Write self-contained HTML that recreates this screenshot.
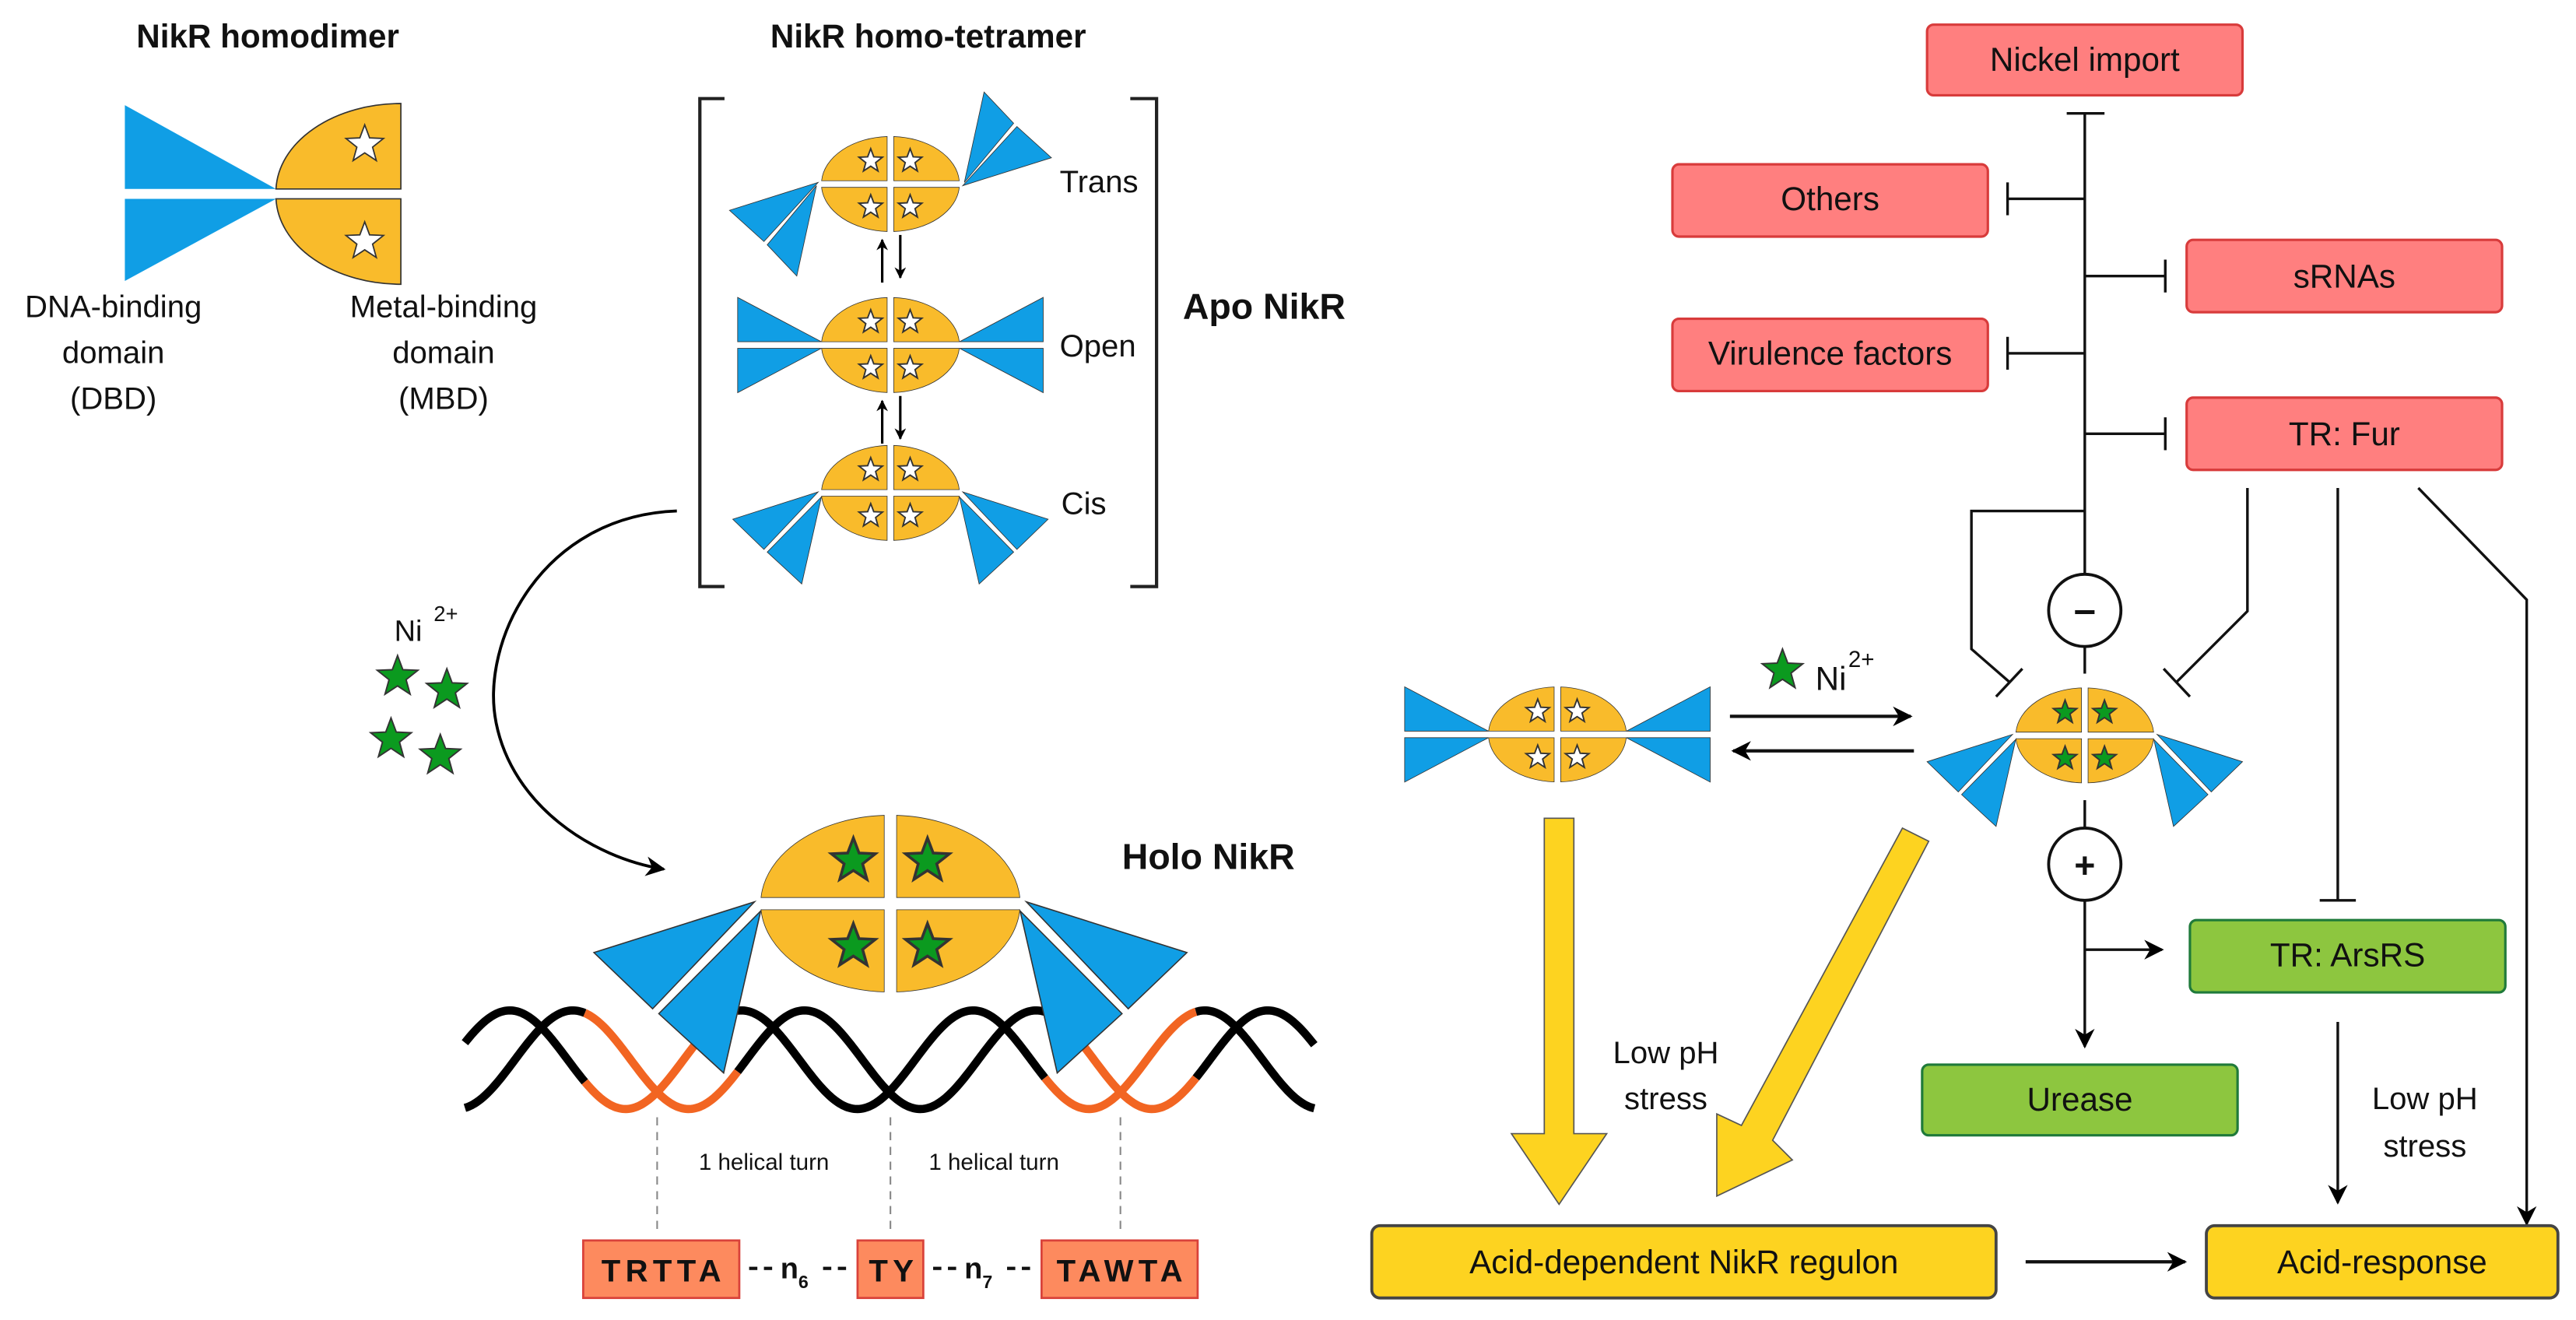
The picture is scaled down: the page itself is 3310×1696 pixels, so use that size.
<!DOCTYPE html>
<html><head><meta charset="utf-8"><style>
html,body{margin:0;padding:0;background:#fff;}
svg{display:block;}
text{font-family:"Liberation Sans",sans-serif;fill:#111;}
</style></head><body>
<svg width="3310" height="1696" viewBox="0 0 1568 803.4" xmlns="http://www.w3.org/2000/svg">
<defs>
<marker id="ah" viewBox="0 0 10 10" refX="9" refY="5" markerWidth="7" markerHeight="7" markerUnits="userSpaceOnUse" orient="auto"><path d="M0,0 L10,5 L0,10 L3,5 Z" fill="#000"/></marker>
<marker id="ahb" viewBox="0 0 10 10" refX="9" refY="5" markerWidth="14" markerHeight="12" markerUnits="userSpaceOnUse" orient="auto"><path d="M0,0 L10,5 L0,10 L3,5 Z" fill="#000"/></marker>
<polygon id="star" points="0,-1 0.247,-0.34 0.951,-0.309 0.399,0.13 0.588,0.809 0,0.42 -0.588,0.809 -0.399,0.13 -0.951,-0.309 -0.247,-0.34"/>
<g id="body">
<path d="M-2,-2 L-2,-28.9 A42,29 0 0 0 -41.9,-2 Z M2,-2 L2,-28.9 A42,29 0 0 1 41.9,-2 Z M-2,2 L-2,28.9 A42,29 0 0 1 -41.9,2 Z M2,2 L2,28.9 A42,29 0 0 0 41.9,2 Z" fill="#f9bb2b" stroke="#333" stroke-width="0.8" vector-effect="non-scaling-stroke"/>
</g>
<g id="cisw" fill="#109ee5" stroke="#333" stroke-width="0.4" vector-effect="non-scaling-stroke">
<polygon points="-96,16 -44,-0.6 -77,34.4"/><polygon points="-75,36 -42,2.4 -54,55.4"/>
<polygon points="96,16 44,-0.6 77,34.4"/><polygon points="75,36 42,2.4 54,55.4"/>
</g>
<g id="openw" fill="#109ee5" stroke="#333" stroke-width="0.4">
<polygon points="-93,-29 -93,-2 -42,-2"/><polygon points="-93,2 -42,2 -93,29"/>
<polygon points="93,-29 93,-2 42,-2"/><polygon points="93,2 42,2 93,29"/>
</g>
<g id="transw" fill="#109ee5" stroke="#333" stroke-width="0.4">
<polygon points="-98,16 -44,-1 -77,35"/><polygon points="-75,37 -45,1 -57,56"/>
<polygon points="98,-16 44,1 77,-35"/><polygon points="75,-37 45,-1 57,-56"/>
</g>
<g id="wst">
<g fill="#fff" stroke="#333" stroke-width="0.12">
<use href="#star" transform="translate(-12,-14) scale(7.5)"/><use href="#star" transform="translate(12,-14) scale(7.5)"/>
<use href="#star" transform="translate(-12,14) scale(7.5)"/><use href="#star" transform="translate(12,14) scale(7.5)"/>
</g></g>
<g id="gst">
<g fill="#0b9a1f" stroke="#333" stroke-width="0.12">
<use href="#star" transform="translate(-12,-14) scale(7.5)"/><use href="#star" transform="translate(12,-14) scale(7.5)"/>
<use href="#star" transform="translate(-12,14) scale(7.5)"/><use href="#star" transform="translate(12,14) scale(7.5)"/>
</g></g>
</defs>

<text x="163" y="29" font-size="20" font-weight="bold" text-anchor="middle">NikR homodimer</text>
<polygon points="76,64 76,115 168,115" fill="#109ee5"/>
<polygon points="76,121 168,121 76,171" fill="#109ee5"/>
<path d="M244,63 A76,54 0 0 0 168,115 L244,115 Z" fill="#f9bb2b" stroke="#333" stroke-width="0.8"/>
<path d="M168,121 A76,54 0 0 0 244,173 L244,121 Z" fill="#f9bb2b" stroke="#333" stroke-width="0.8"/>
<use href="#star" transform="translate(222,88) scale(12)" fill="#fff" stroke="#333" stroke-width="0.07"/>
<use href="#star" transform="translate(222,147) scale(12)" fill="#fff" stroke="#333" stroke-width="0.07"/>
<g font-size="19" text-anchor="middle">
<text x="69" y="193">DNA-binding</text><text x="69" y="221">domain</text><text x="69" y="249">(DBD)</text>
<text x="270" y="193">Metal-binding</text><text x="270" y="221">domain</text><text x="270" y="249">(MBD)</text>
</g>

<text x="565" y="29" font-size="20" font-weight="bold" text-anchor="middle">NikR homo-tetramer</text>
<path d="M441,60 L426,60 L426,357 L441,357" fill="none" stroke="#222" stroke-width="2"/>
<path d="M688,60 L704,60 L704,357 L688,357" fill="none" stroke="#222" stroke-width="2"/>
<g transform="translate(542,112)"><use href="#transw"/><use href="#body"/><use href="#wst"/></g>
<g transform="translate(542,210)"><use href="#openw"/><use href="#body"/><use href="#wst"/></g>
<g transform="translate(542,300)"><use href="#cisw"/><use href="#body"/><use href="#wst"/></g>
<g font-size="19"><text x="645" y="117">Trans</text><text x="645" y="217">Open</text><text x="646" y="313">Cis</text></g>
<g stroke="#000" stroke-width="1.5" fill="none">
<line x1="537" y1="172" x2="537" y2="146" marker-end="url(#ah)"/><line x1="548" y1="143" x2="548" y2="169" marker-end="url(#ah)"/>
<line x1="537" y1="270" x2="537" y2="244" marker-end="url(#ah)"/><line x1="548" y1="241" x2="548" y2="267" marker-end="url(#ah)"/>
</g>
<text x="720" y="194" font-size="22" font-weight="bold">Apo NikR</text>

<path d="M412,311 C330,314 292,390 302,440 C312,490 360,522 404,529" fill="none" stroke="#000" stroke-width="1.8" marker-end="url(#ahb)"/>
<text x="240" y="390" font-size="18">Ni</text><text x="264" y="378" font-size="13">2+</text>
<g fill="#0b9a1f" stroke="#333" stroke-width="0.07">
<use href="#star" transform="translate(242,412) scale(13)"/><use href="#star" transform="translate(272,420) scale(13)"/>
<use href="#star" transform="translate(238,450) scale(13)"/><use href="#star" transform="translate(268,460) scale(13)"/>
</g>

<g id="dna" fill="none" stroke-width="5"></g>

<g transform="translate(542,550)">
<g transform="scale(1.88,1.86)"><use href="#cisw"/><use href="#body"/><use href="#gst"/></g>
</g>
<text x="683" y="529" font-size="22" font-weight="bold">Holo NikR</text>

<g stroke="#888" stroke-width="1" stroke-dasharray="5,4">
<line x1="400" y1="680" x2="400" y2="752"/><line x1="542" y1="680" x2="542" y2="752"/><line x1="682" y1="680" x2="682" y2="752"/>
</g>
<text x="465" y="712" font-size="14" text-anchor="middle">1 helical turn</text>
<text x="605" y="712" font-size="14" text-anchor="middle">1 helical turn</text>
<g fill="#fd8a5e" stroke="#d9423a" stroke-width="1.3">
<rect x="355" y="755" width="95" height="35"/><rect x="522" y="755" width="40" height="35"/><rect x="634" y="755" width="95" height="35"/>
</g>
<g font-size="19" font-weight="bold" text-anchor="middle" letter-spacing="3">
<text x="404" y="780">TRTTA</text><text x="544" y="780">TY</text><text x="683" y="780">TAWTA</text>
</g>
<g stroke="#111" stroke-width="2">
<line x1="456" y1="772" x2="461" y2="772"/><line x1="465" y1="772" x2="470" y2="772"/>
<line x1="501" y1="772" x2="506" y2="772"/><line x1="510" y1="772" x2="515" y2="772"/>
<line x1="568" y1="772" x2="573" y2="772"/><line x1="577" y1="772" x2="582" y2="772"/>
<line x1="613" y1="772" x2="618" y2="772"/><line x1="622" y1="772" x2="627" y2="772"/>
</g>
<g font-size="18" font-weight="bold">
<text x="475" y="778">n</text><text x="486" y="784" font-size="11">6</text>
<text x="587" y="778">n</text><text x="598" y="784" font-size="11">7</text>
</g>

<g fill="#ff7f7f" stroke="#d83b3b" stroke-width="1.5">
<rect x="1173" y="15" width="192" height="43" rx="4"/>
<rect x="1018" y="100" width="192" height="44" rx="4"/>
<rect x="1331" y="146" width="192" height="44" rx="4"/>
<rect x="1018" y="194" width="192" height="44" rx="4"/>
<rect x="1331" y="242" width="192" height="44" rx="4"/>
</g>
<g font-size="20" text-anchor="middle">
<text x="1269" y="43">Nickel import</text>
<text x="1114" y="128">Others</text>
<text x="1427" y="175">sRNAs</text>
<text x="1114" y="222">Virulence factors</text>
<text x="1427" y="271">TR: Fur</text>
</g>
<g stroke="#111" stroke-width="1.6" fill="none">
<line x1="1269" y1="69" x2="1269" y2="350"/><line x1="1258" y1="69" x2="1281" y2="69"/>
<line x1="1269" y1="121" x2="1222" y2="121"/><line x1="1222" y1="111" x2="1222" y2="131"/>
<line x1="1269" y1="168" x2="1318" y2="168"/><line x1="1318" y1="158" x2="1318" y2="178"/>
<line x1="1269" y1="215" x2="1222" y2="215"/><line x1="1222" y1="205" x2="1222" y2="225"/>
<line x1="1269" y1="264" x2="1318" y2="264"/><line x1="1318" y1="254" x2="1318" y2="274"/>
<polyline points="1269,311 1200,311 1200,395 1223,415"/><line x1="1215" y1="424" x2="1231" y2="407"/>
<polyline points="1368,297 1368,372 1325,415"/><line x1="1317" y1="407" x2="1333" y2="424"/>
<ellipse cx="1269" cy="371.5" rx="22" ry="22" stroke-width="1.8"/>
<line x1="1269" y1="394" x2="1269" y2="410"/>
<line x1="1423" y1="297" x2="1423" y2="548"/><line x1="1412" y1="548" x2="1434" y2="548"/>
<polyline points="1472,297 1538,365 1538,745" marker-end="url(#ahb)"/>
<line x1="1269" y1="487" x2="1269" y2="504"/>
<ellipse cx="1269" cy="526" rx="22" ry="22" stroke-width="1.8"/>
<line x1="1269" y1="548" x2="1269" y2="637" marker-end="url(#ahb)"/>
<line x1="1269" y1="578" x2="1316" y2="578" marker-end="url(#ahb)"/>
<line x1="1423" y1="622" x2="1423" y2="732" marker-end="url(#ahb)"/>
<line x1="1233" y1="768" x2="1330" y2="768" stroke-width="2" marker-end="url(#ahb)"/>
<line x1="1053" y1="436" x2="1163" y2="436" stroke-width="2" marker-end="url(#ahb)"/>
<line x1="1165" y1="457" x2="1055" y2="457" stroke-width="2" marker-end="url(#ahb)"/>
</g>
<text x="1269" y="379" font-size="24" font-weight="bold" text-anchor="middle">–</text>
<text x="1269" y="534" font-size="22" font-weight="bold" text-anchor="middle">+</text>
<use href="#star" transform="translate(1085,408) scale(13)" fill="#0b9a1f" stroke="#333" stroke-width="0.07"/>
<text x="1105" y="420" font-size="20">Ni</text><text x="1125" y="406" font-size="14">2+</text>

<g transform="translate(948,447)"><use href="#openw"/><use href="#body"/><use href="#wst"/></g>
<g transform="translate(1269,447.6)"><use href="#cisw"/><use href="#body"/><use href="#gst"/></g>

<g fill="#8dc63f" stroke="#1f7a3a" stroke-width="1.5">
<rect x="1170" y="648" width="192" height="43" rx="4"/>
<rect x="1333" y="560" width="192" height="44" rx="4"/>
</g>
<text x="1266" y="676" font-size="20" text-anchor="middle">Urease</text>
<text x="1429" y="588" font-size="20" text-anchor="middle">TR: ArsRS</text>

<g fill="#fdd320" stroke="#444" stroke-width="1.8">
<rect x="835" y="746" width="380" height="44" rx="5"/>
<rect x="1343" y="746" width="214" height="44" rx="5"/>
</g>
<text x="1025" y="775" font-size="20" text-anchor="middle">Acid-dependent NikR regulon</text>
<text x="1450" y="775" font-size="20" text-anchor="middle">Acid-response</text>

<g fill="#fdd320" stroke="#555" stroke-width="0.8">
<polygon points="940,498 958,498 958,690 978,690 949,733 920,690 940,690"/>
<polygon points="1158,504 1174,512 1079,694 1091,706 1045,728 1045,678 1060,685"/>
</g>
<g font-size="19" text-anchor="middle">
<text x="1014" y="647">Low pH</text><text x="1014" y="675">stress</text>
<text x="1476" y="675">Low pH</text><text x="1476" y="704">stress</text>
</g>
</svg>
<script>
(function(){
var g=document.getElementById('dna');var c=645,A=30,P=141,x0=364.75,a=0.855,k=2*Math.PI/P;
var segs=[[283,356,'#000'],[356,449,'#f26522'],[449,636,'#000'],[636,728,'#f26522'],[728,800,'#000']];
[ -a, a ].forEach(function(ph){
 segs.forEach(function(s){
  var d='';for(var x=s[0];x<=s[1]+0.001;x+=1){var y=c+A*Math.sin(k*(x-x0)+ph);d+=(d?'L':'M')+x.toFixed(1)+','+y.toFixed(2);}
  var p=document.createElementNS('http://www.w3.org/2000/svg','path');p.setAttribute('d',d);p.setAttribute('stroke',s[2]);g.appendChild(p);
 });
});
})();
</script>
</body></html>
